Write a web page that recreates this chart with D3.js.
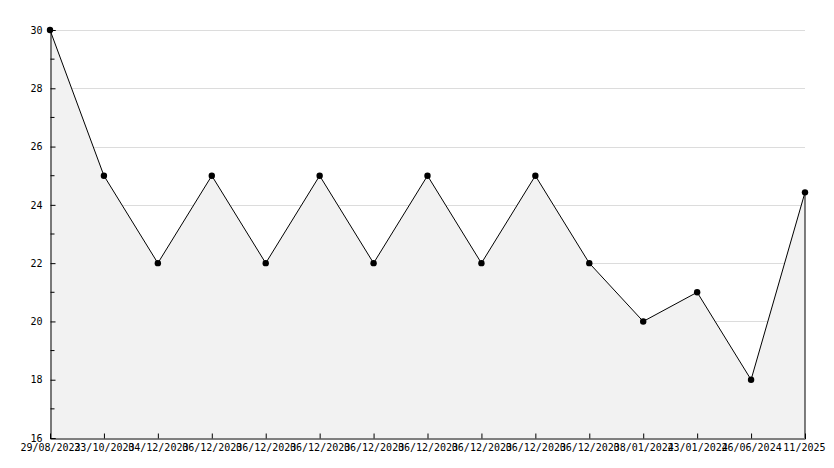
<!DOCTYPE html>
<html>
<head>
<meta charset="utf-8">
<script src="https://cdn.jsdelivr.net/npm/d3@7"></script>
<style>
body { margin: 0; background: #fff; }
text { font-family: "DejaVu Sans Mono", monospace; font-size: 10px; fill: #000; }
</style>
</head>
<body>
<svg id="chart" width="834" height="468"></svg>
<script>
const dates = ['29/08/2023', '23/10/2023', '04/12/2023', '06/12/2023', '06/12/2023', '06/12/2023', '06/12/2023',
  '06/12/2023', '06/12/2023', '06/12/2023', '06/12/2023', '08/01/2024', '23/01/2024', '26/06/2024', '11/2025']
const values = [30, 25, 22, 25, 22, 25, 22, 25, 22, 25, 22, 20, 21, 18, 24.43]
const yTicks = [16, 18, 20, 22, 24, 26, 28, 30]
const yMinor = [17, 19, 21, 23, 25, 27, 29]

const w = 834, h = 468, m = { top: 30, left: 50, right: 29, bottom: 30 }
const svg = d3.select('#chart')
const idx = dates.map((d, i) => i)
const x = d3.scaleLinear().domain([0, dates.length - 1]).range([m.left, w - m.right])
const y = d3.scaleLinear().domain([16, 30]).range([h - m.bottom, m.top])

// grid
svg.append('g').selectAll('line').data(yTicks.slice(1)).enter().append('line')
  .attr('x1', m.left).attr('x2', w - m.right)
  .attr('y1', d => Math.round(y(d)) + .5).attr('y2', d => Math.round(y(d)) + .5)
  .attr('stroke', '#dcdcdc')

// area + line
const area = d3.area().x(i => x(i)).y0(y(16)).y1(i => y(values[i]))
svg.append('path').datum(idx).attr('d', area).attr('fill', '#f2f2f2')
svg.append('path').datum(idx).attr('d', d3.line().x(i => x(i)).y(i => y(values[i])))
  .attr('fill', 'none').attr('stroke', '#000')
const last = idx.length - 1
svg.append('line').attr('x1', x(last)).attr('x2', x(last)).attr('y1', y(values[last])).attr('y2', y(16))
  .attr('stroke', '#000')

// axes
const ax = svg.append('g').attr('transform', `translate(0,${Math.round(y(16)) + .5})`)
  .call(d3.axisBottom(x).tickValues(idx).tickSize(-5).tickPadding(5).tickFormat(i => dates[i]))
ax.select('.domain').attr('stroke', '#000')
ax.selectAll('.tick line').attr('stroke', '#000')
ax.selectAll('.tick').filter(i => i === 0 || i === last).select('line').remove()
ax.selectAll('.tick').filter(i => i === last).select('text').attr('text-anchor', 'end').attr('dx', 20)
ax.selectAll('text').attr('dy', '0.71em').style('font-size', '10px').style('font-family', '"DejaVu Sans Mono", monospace')

const ay = svg.append('g').attr('transform', `translate(${m.left + .5},0)`)
  .call(d3.axisLeft(y).tickValues(yTicks).tickSize(-5).tickPadding(8).tickFormat(d3.format('d')))
ay.select('.domain').attr('stroke', '#000')
ay.selectAll('.tick line').attr('stroke', '#000')
ay.selectAll('text').style('font-size', '10px').style('font-family', '"DejaVu Sans Mono", monospace')
ay.append('g').selectAll('line').data(yMinor).enter().append('line')
  .attr('x1', 0).attr('x2', 4).attr('y1', d => y(d)).attr('y2', d => y(d)).attr('stroke', '#000')

// markers
svg.append('g').selectAll('circle').data(idx).enter().append('circle')
  .attr('cx', i => x(i)).attr('cy', i => y(values[i])).attr('r', 3.2).attr('fill', '#000')
</script>
</body>
</html>
